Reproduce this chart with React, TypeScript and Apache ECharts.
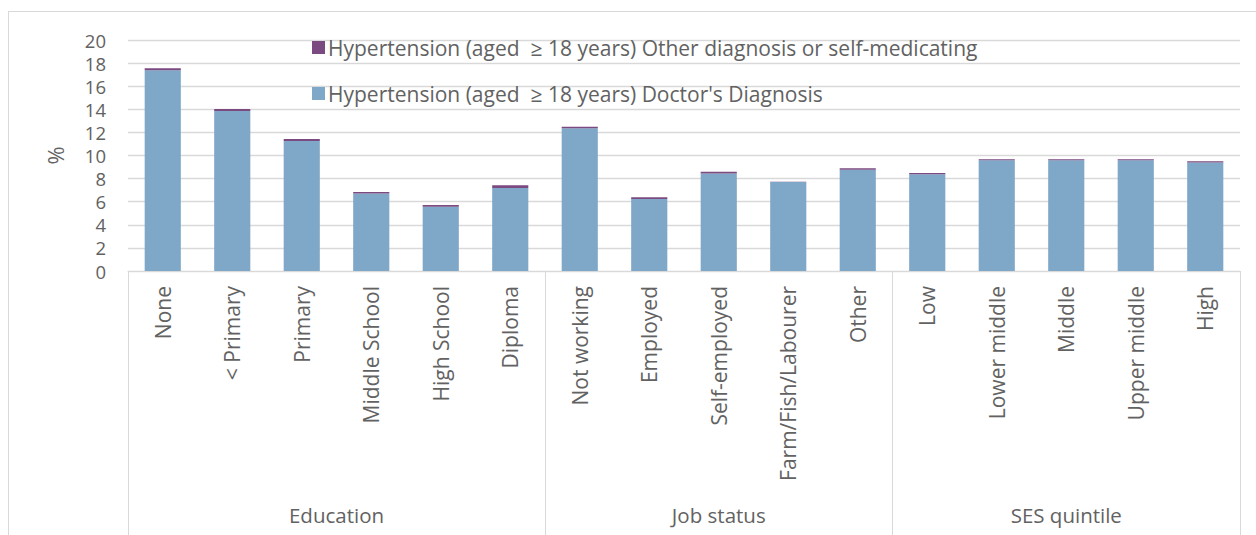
import React, { useEffect, useRef } from "react";
import * as echarts from "echarts";

const categories = [
  "None", "< Primary", "Primary", "Middle School", "High School", "Diploma",
  "Not working", "Employed", "Self-employed", "Farm/Fish/Labourer", "Other",
  "Low", "Lower middle", "Middle", "Upper middle", "High",
];
const doctorDiagnosis = [17.38, 13.85, 11.26, 6.7, 5.57, 7.19, 12.35, 6.23, 8.45, 7.7, 8.77, 8.37, 9.58, 9.58, 9.58, 9.4];
const otherDiagnosis = [0.17, 0.18, 0.17, 0.14, 0.14, 0.23, 0.15, 0.15, 0.15, 0.03, 0.13, 0.11, 0.1, 0.1, 0.1, 0.1];
const groups = ["Education", "Job status", "SES quintile"];
const groupSizes = [6, 5, 5];
const seriesNames = [
  "Hypertension (aged  \u2265 18 years) Doctor's Diagnosis",
  "Hypertension (aged  \u2265 18 years) Other diagnosis or self-medicating",
];

const FONT = "'Open Sans', sans-serif";
const TXT = "#626262";
const GRID = "#d9d9d9";

export default function App() {
  const ref = useRef<HTMLDivElement>(null);
  useEffect(() => {
    if (!ref.current) return;
    const chart = echarts.init(ref.current, undefined, { renderer: "svg" });

    // half-slot axis for group labels & separators
    const halfCount = categories.length * 2 + 1;
    const halfData: string[] = new Array(halfCount).fill("");
    const boundaries: number[] = [0];
    const centers: number[] = [];
    let acc = 0;
    groupSizes.forEach((s, i) => {
      centers.push(acc * 2 + s);
      acc += s;
      boundaries.push(acc * 2);
      halfData[centers[i]] = groups[i];
    });

    chart.setOption({
      animation: false,
      textStyle: { fontFamily: FONT },
      graphic: [
        { type: "line", shape: { x1: 8, y1: 11.5, x2: 1256, y2: 11.5 }, style: { stroke: GRID, lineWidth: 1 } },
        { type: "line", shape: { x1: 8.5, y1: 11, x2: 8.5, y2: 535 }, style: { stroke: GRID, lineWidth: 1 } },
      ],
      legend: {
        orient: "vertical",
        left: 307,
        top: 32,
        itemWidth: 13,
        itemHeight: 13,
        itemGap: 25,
        icon: "rect",
        data: [seriesNames[1], seriesNames[0]],
        textStyle: { fontFamily: FONT, fontSize: 21, color: TXT, padding: [0, 0, 0, -2] },
      },
      grid: { left: 128, right: 16, top: 40, bottom: 264, containLabel: false },
      xAxis: [
        {
          type: "category",
          data: categories,
          axisLine: { show: true, lineStyle: { color: GRID, width: 1 } },
          axisTick: { show: false },
          axisLabel: { interval: 0, rotate: 90, margin: 15, fontSize: 21, color: TXT, fontFamily: FONT },
        },
        {
          type: "category",
          data: halfData,
          boundaryGap: false,
          position: "bottom",
          axisLine: { show: false },
          axisTick: {
            show: true,
            length: 270,
            interval: (i: number) => boundaries.includes(i),
            lineStyle: { color: GRID, width: 1 },
          },
          axisLabel: {
            interval: (i: number) => centers.includes(i),
            margin: 233,
            fontSize: 20.5,
            color: TXT,
            fontFamily: FONT,
          },
        },
      ],
      yAxis: {
        type: "value",
        min: 0,
        max: 20,
        interval: 2,
        name: "%",
        nameLocation: "middle",
        nameGap: 62,
        nameRotate: 90,
        nameTextStyle: { fontSize: 22, color: TXT, fontFamily: FONT },
        axisLine: { show: false },
        axisTick: { show: false },
        axisLabel: { fontSize: 18.5, lineHeight: 18, color: TXT, margin: 22, fontFamily: FONT },
        splitLine: { lineStyle: { color: GRID, width: 1.3 } },
      },
      series: [
        {
          name: seriesNames[0],
          type: "bar",
          stack: "a",
          barWidth: "52%",
          data: doctorDiagnosis,
          itemStyle: { color: "#7fa7c7" },
        },
        {
          name: seriesNames[1],
          type: "bar",
          stack: "a",
          barWidth: "52%",
          data: otherDiagnosis,
          itemStyle: { color: "#7a4a80" },
        },
      ],
    });
    return () => chart.dispose();
  }, []);
  return <div ref={ref} style={{ position: "fixed", left: 0, top: 0, width: 1256, height: 535, background: "#fff" }} />;
}
